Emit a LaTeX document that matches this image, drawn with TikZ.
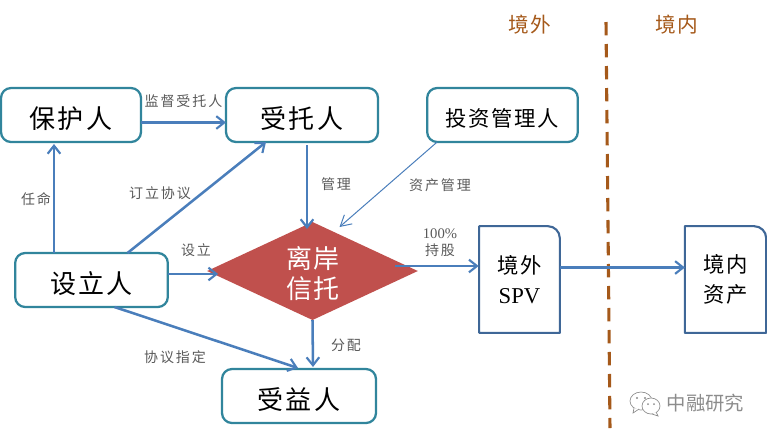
\documentclass[tikz,border=0pt]{standalone}
\usepackage{fontspec}
\setmainfont{Noto Sans CJK SC}
\newfontfamily\latinserif{Liberation Serif}
\usetikzlibrary{shapes.geometric,arrows.meta,calc}
\definecolor{teal1}{HTML}{31859C}
\definecolor{blue1}{HTML}{4A7EBB}
\definecolor{blue2}{HTML}{3F6797}
\definecolor{red1}{HTML}{C0504D}
\definecolor{brown1}{HTML}{A5591A}
\definecolor{lab}{HTML}{595959}
\definecolor{wm}{HTML}{8C8C8C}
\newcommand{\fsz}[2]{\fontsize{#1}{#1}\selectfont\addfontfeature{LetterSpace=#2}}
\tikzset{
  x=0.75pt,y=-0.75pt,
  tealbox/.style={draw=teal1,line width=1.7pt,rounded corners=7.5pt,fill=white,rectangle,
    minimum width=#1,minimum height=40.5pt,inner sep=0pt,outer sep=0pt,font=\fsz{19.5}{9},text=black,text height=21.5pt},
  bluebox/.style={rectangle,minimum width=60.5pt,minimum height=80pt,inner sep=0pt,outer sep=0pt,
    align=center,font=\fsz{16}{8},text=black},
  bluepath/.style={draw=blue2,line width=1.6pt,line join=round},
  lbl/.style={text=lab,font=\fsz{10.5}{14},inner sep=0pt,align=center},
  conn/.style={draw=blue1,line width=1.9pt,-{Straight Barb[length=6pt,width=9.5pt,line width=1.6pt]}},
  thinconn/.style={draw=blue1,line width=0.75pt,-{Straight Barb[length=8pt,width=9pt,line width=0.75pt]}},
  divider/.style={draw=brown1,line width=2.3pt,dash pattern=on 10pt off 6.5pt},
  zone/.style={text=brown1,font=\fsz{15.5}{8},inner sep=0pt},
  icon/.style={draw=wm,line width=0.5pt,fill=white},
}
\begin{document}
\begin{tikzpicture}
\useasboundingbox (0,0) rectangle (767,437);
% divider
\coordinate (dtop) at (606,22);
\coordinate (dbot) at (610,428);
\draw[divider] (dtop) -- (dbot);
\node[zone] (zw) at (530,25) {境外};
\node[zone] (zn) at (677,25) {境内};
% boxes
\node[tealbox=105pt] (bh) at (71,115) {保护人};
\node[tealbox=114pt] (st) at (302,115) {受托人};
\node[tealbox=113pt,font=\fsz{16}{8},text height=18.5pt] (tz) at (502.5,115) {投资管理人};
\node[tealbox=114.5pt] (lr) at (91.5,280) {设立人};
\node[tealbox=115.5pt] (sy) at (299,396) {受益人};
\node[diamond,aspect=2.15,fill=red1,inner sep=0pt,outer sep=0pt,minimum width=158pt,minimum height=73.5pt] (dm) at (312.5,271) {};
\node[text=white,align=center,font=\fsz{19.5}{6},inner sep=0pt] (dmt) at (313,274) {离岸\\[3pt]信托};
\node[bluebox] (spv) at (519.5,279.5) {境外\\[6pt]{\latinserif\fontsize{17}{17}\selectfont SPV}};
\node[bluebox,minimum width=61pt] (jn) at (725.5,279.5) {境内\\[6pt]资产};
\draw[bluepath] (spv.south west) [sharp corners] -- (spv.north west) [rounded corners=9pt] -- (spv.north east) [sharp corners] -- (spv.south east) -- cycle;
\draw[bluepath] (jn.south west) [sharp corners] -- (jn.north west) [rounded corners=9pt] -- (jn.north east) [sharp corners] -- (jn.south east) -- cycle;
% connectors
\draw[conn] ($(bh.east)+(0,7.5)$) -- ($(st.west)+(0,7.5)$);
\draw[conn] ($(lr.north)+(-37.5,0)$) -- ($(bh.south)+(-17,2)$);
\draw[conn] ($(lr.north)+(36,0)$) -- ($(st.south)+(-36,0)$);
\draw[conn] ($(lr.east)+(0,-6)$) -- ($(dm.west)+(11,3)$);
\draw[conn] ($(st.south)+(5,3)$) -- ($(dm.north)+(-5.5,7)$);
\draw[thinconn] ($(tz.south west)+(10,0)$) -- ($(dm.north)+(27,5)$);
\draw[conn] ($(dm.east)+(-23,-5)$) -- ($(spv.west)+(-0.5,-13.5)$);
\draw[conn] ($(spv.east)+(0,-12)$) -- ($(jn.west)+(0,-12)$);
\draw[conn] (dm.south) -- ($(sy.north)+(14,-2)$);
\draw[conn] ($(lr.south)+(23,0)$) -- ($(sy.north)+(-1,-1)$);
% labels
\node[lbl] (l1) at (183.5,101) {监督受托人};
\node[lbl] (l2) at (36,199) {任命};
\node[lbl] (l3) at (160,193) {订立协议};
\node[lbl] (l4) at (336,184) {管理};
\node[lbl] (l5) at (440,185) {资产管理};
\node[lbl] (l6) at (196,250) {设立};
\node[lbl] (l7) at (440,243) {{\latinserif\fontsize{11}{11}\selectfont 100\%}\\[2pt]持股};
\node[lbl] (l8) at (346,345) {分配};
\node[lbl] (l9) at (175,357) {协议指定};
% watermark
\draw[icon] (641,401) ellipse [x radius=11,y radius=9];
\draw[icon] (634,408) -- (633,413) -- (639,409);
\fill[wm] (637,398) circle (1.1) (645,398) circle (1.1);
\draw[icon] (651,406) ellipse [x radius=9,y radius=8];
\draw[icon] (656,412) -- (658,416) -- (652,414);
\fill[wm] (648,404) circle (1) (654,404) circle (1);
\node[text=wm,font=\fsz{14.5}{0},inner sep=0pt] (wmk) at (705.5,403) {中融研究};
\end{tikzpicture}
\end{document}
